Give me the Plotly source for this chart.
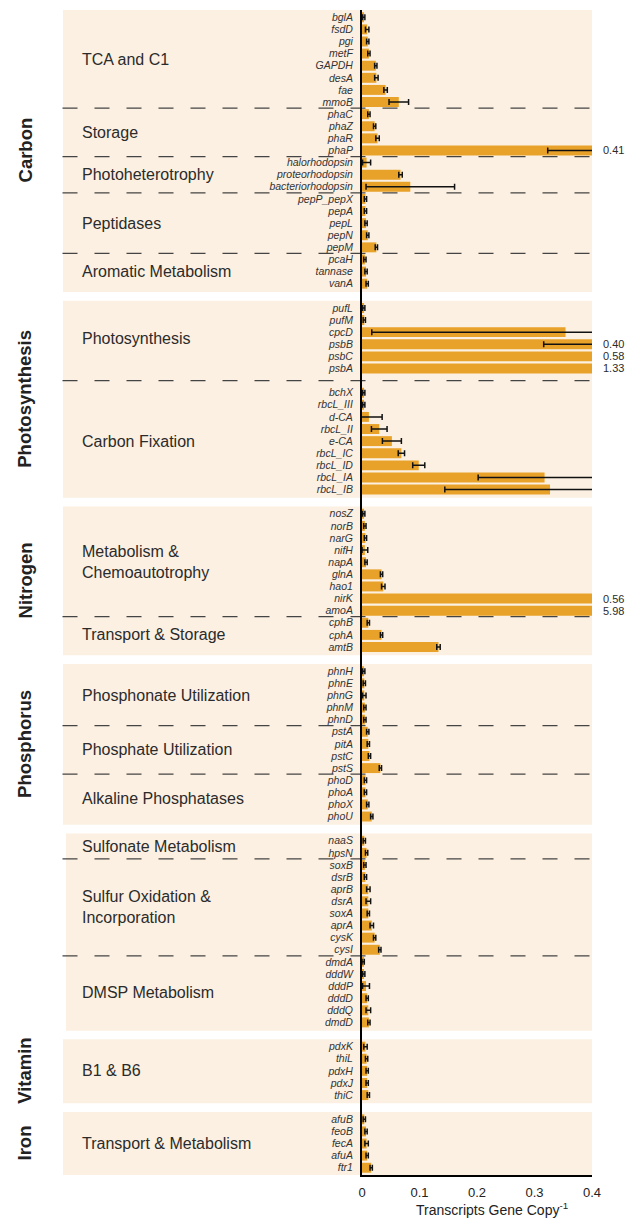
import plotly.graph_objects as go

FONT = "Liberation Sans, Arial, Helvetica, sans-serif"

# ---------------------------------------------------------------- data
# Carbon
tca_genes = ["bglA", "fsdD", "pgi", "metF", "GAPDH", "desA", "fae", "mmoB"]
tca_vals = [0.003, 0.009, 0.010, 0.012, 0.024, 0.025, 0.041, 0.064]
tca_errs = [0.002, 0.003, 0.002, 0.002, 0.002, 0.003, 0.003, 0.017]

storage_genes = ["phaC", "phaZ", "phaR", "phaP"]
storage_vals = [0.012, 0.022, 0.027, 0.41]
storage_errs = [0.002, 0.002, 0.003, 0.087]

photohet_genes = ["halorhodopsin", "proteorhodopsin", "bacteriorhodopsin"]
photohet_vals = [0.008, 0.067, 0.084]
photohet_errs = [0.007, 0.003, 0.077]

pept_genes = ["pepP_pepX", "pepA", "pepL", "pepN", "pepM"]
pept_vals = [0.006, 0.006, 0.007, 0.010, 0.025]
pept_errs = [0.002, 0.002, 0.002, 0.002, 0.002]

arom_genes = ["pcaH", "tannase", "vanA"]
arom_vals = [0.005, 0.007, 0.009]
arom_errs = [0.002, 0.002, 0.002]

# Photosynthesis
psyn_genes = ["pufL", "pufM", "cpcD", "psbB", "psbC", "psbA"]
psyn_vals = [0.003, 0.004, 0.354, 0.40, 0.58, 1.33]
psyn_errs = [0.002, 0.002, 0.337, 0.084, 0.09, 0.35]

cfix_genes = ["bchX", "rbcL_III", "d-CA", "rbcL_II", "e-CA", "rbcL_IC",
              "rbcL_ID", "rbcL_IA", "rbcL_IB"]
cfix_vals = [0.003, 0.003, 0.012, 0.030, 0.052, 0.0685, 0.0987, 0.3175, 0.327]
cfix_errs = [0.002, 0.002, 0.023, 0.0136, 0.0165, 0.0055, 0.0105, 0.1155, 0.183]

# Nitrogen
nmet_genes = ["nosZ", "norB", "narG", "nifH", "napA", "glnA", "hao1", "nirK", "amoA"]
nmet_vals = [0.003, 0.005, 0.006, 0.005, 0.007, 0.034, 0.037, 0.56, 5.98]
nmet_errs = [0.002, 0.002, 0.002, 0.005, 0.002, 0.002, 0.003, 0.12, 1.9]

ntrans_genes = ["cphB", "cphA", "amtB"]
ntrans_vals = [0.011, 0.034, 0.133]
ntrans_errs = [0.002, 0.002, 0.003]

# Phosphorus
phon_genes = ["phnH", "phnE", "phnG", "phnM", "phnD"]
phon_vals = [0.003, 0.004, 0.004, 0.005, 0.005]
phon_errs = [0.002, 0.002, 0.003, 0.002, 0.002]

phat_genes = ["pstA", "pitA", "pstC", "pstS"]
phat_vals = [0.010, 0.011, 0.013, 0.032]
phat_errs = [0.002, 0.002, 0.002, 0.002]

alk_genes = ["phoD", "phoA", "phoX", "phoU"]
alk_vals = [0.006, 0.006, 0.010, 0.017]
alk_errs = [0.002, 0.002, 0.002, 0.002]

# Sulfur
sulfon_genes = ["naaS", "hpsN"]
sulfon_vals = [0.004, 0.008]
sulfon_errs = [0.002, 0.002]

sox_genes = ["soxB", "dsrB", "aprB", "dsrA", "soxA", "aprA", "cysK", "cysI"]
sox_vals = [0.005, 0.006, 0.011, 0.011, 0.011, 0.017, 0.022, 0.031]
sox_errs = [0.002, 0.002, 0.003, 0.004, 0.002, 0.003, 0.002, 0.002]

dmsp_genes = ["dmdA", "dddW", "dddP", "dddD", "dddQ", "dmdD"]
dmsp_vals = [0.002, 0.003, 0.007, 0.009, 0.011, 0.012]
dmsp_errs = [0.002, 0.002, 0.006, 0.002, 0.004, 0.002]

# Vitamin
vit_genes = ["pdxK", "thiL", "pdxH", "pdxJ", "thiC"]
vit_vals = [0.006, 0.008, 0.009, 0.009, 0.011]
vit_errs = [0.003, 0.002, 0.002, 0.002, 0.002]

# Iron
iron_genes = ["afuB", "feoB", "fecA", "afuA", "ftr1"]
iron_vals = [0.004, 0.007, 0.008, 0.009, 0.016]
iron_errs = [0.002, 0.002, 0.003, 0.002, 0.002]

x_ticks = [0, 0.1, 0.2, 0.3, 0.4]
x_ticktext = ["0", "0.1", "0.2", "0.3", "0.4"]
X_MAX = 0.4

# panel: (side label, extra rows at sub-group breaks, left edge px, sub-groups)
panels = [
    ("Carbon", 0, 63, [
        ("TCA and C1", tca_genes, tca_vals, tca_errs),
        ("Storage", storage_genes, storage_vals, storage_errs),
        ("Photoheterotrophy", photohet_genes, photohet_vals, photohet_errs),
        ("Peptidases", pept_genes, pept_vals, pept_errs),
        ("Aromatic Metabolism", arom_genes, arom_vals, arom_errs),
    ]),
    ("Photosynthesis", 1, 63, [
        ("Photosynthesis", psyn_genes, psyn_vals, psyn_errs),
        ("Carbon Fixation", cfix_genes, cfix_vals, cfix_errs),
    ]),
    ("Nitrogen", 0, 63, [
        ("Metabolism &<br>Chemoautotrophy", nmet_genes, nmet_vals, nmet_errs),
        ("Transport & Storage", ntrans_genes, ntrans_vals, ntrans_errs),
    ]),
    ("Phosphorus", 0, 63, [
        ("Phosphonate Utilization", phon_genes, phon_vals, phon_errs),
        ("Phosphate Utilization", phat_genes, phat_vals, phat_errs),
        ("Alkaline Phosphatases", alk_genes, alk_vals, alk_errs),
    ]),
    ("", 0, 66, [
        ("Sulfonate Metabolism", sulfon_genes, sulfon_vals, sulfon_errs),
        ("Sulfur Oxidation &<br>Incorporation", sox_genes, sox_vals, sox_errs),
        ("DMSP Metabolism", dmsp_genes, dmsp_vals, dmsp_errs),
    ]),
    ("Vitamin", 0, 63, [
        ("B1 & B6", vit_genes, vit_vals, vit_errs),
    ]),
    ("Iron", 0, 63, [
        ("Transport & Metabolism", iron_genes, iron_vals, iron_errs),
    ]),
]

# ---------------------------------------------------------- row layout
ys, genes, vals, errs = [], [], [], []
panel_spans, sub_labels, separators = [], [], []
row = 0
for pi, (plabel, sep_extra, left_px, subs) in enumerate(panels):
    if pi > 0:
        row += 1
    first = row
    prev_last = None
    for si, (slabel, g, v, e) in enumerate(subs):
        if si > 0:
            row += sep_extra
            separators.append((prev_last + row) / 2)
        start = row
        for gi in range(len(g)):
            ys.append(row)
            genes.append(g[gi])
            vals.append(v[gi])
            errs.append(e[gi])
            row += 1
        prev_last = row - 1
        sub_labels.append((slabel, (start + prev_last) / 2))
    panel_spans.append((plabel, first, row - 1, left_px))
last_row = row - 1

# ------------------------------------------------------------- geometry
W, H = 627, 1218
M_L, M_R, M_T, M_B = 362, 35, 10, 43
PLOT_W = W - M_L - M_R
PLOT_H = H - M_T - M_B


def px_x(px):
    return (px - M_L) / PLOT_W


def px_y(py):
    return (H - M_B - py) / PLOT_H


PAD_TOP, PAD_BOT = 0.6, 0.68
PANEL_BG = "#FCF0E2"
BAR_COLOR = "#E8A229"
TEXT = "#2b2b2b"

fig = go.Figure()
fig.add_trace(go.Bar(
    x=vals, y=ys, orientation="h",
    marker=dict(color=BAR_COLOR, line=dict(width=0)),
    error_x=dict(type="data", array=errs, visible=True,
                 color="#111111", thickness=1.5, width=3),
    hovertext=genes, showlegend=False,
))

shapes, annotations = [], []
for plabel, first, last, left_px in panel_spans:
    shapes.append(dict(type="rect", layer="below", xref="paper", yref="y",
                       x0=px_x(left_px), x1=1.0,
                       y0=first - PAD_TOP, y1=last + PAD_BOT,
                       fillcolor=PANEL_BG, line=dict(width=0)))
    if plabel:
        annotations.append(dict(text=f"<b>{plabel}</b>", xref="paper", yref="y",
                                x=px_x(25), y=(first + last) / 2, textangle=-90,
                                showarrow=False, xanchor="center", yanchor="middle",
                                font=dict(family=FONT, size=18.5, color="#222222")))

for sy in separators:
    shapes.append(dict(type="line", layer="below", xref="paper", yref="y",
                       x0=px_x(62.5), x1=1.0, y0=sy, y1=sy,
                       line=dict(color="#444444", width=1.3, dash="15px,17px")))

for slabel, cy in sub_labels:
    annotations.append(dict(text=slabel, xref="paper", yref="y",
                            x=px_x(80), y=cy, showarrow=False,
                            xanchor="left", yanchor="middle", align="left",
                            font=dict(family=FONT, size=16, color=TEXT)))

# values that run past the axis limit are written at the right edge
for v, yv in zip(vals, ys):
    if v >= X_MAX:
        annotations.append(dict(text=f"{v:.2f}", xref="paper", yref="y",
                                x=px_x(602), y=yv, showarrow=False,
                                xanchor="left", yanchor="middle", borderpad=0,
                                font=dict(family=FONT, size=11, color=TEXT)))

annotations.append(dict(text="Transcripts Gene Copy<sup>-1</sup>",
                        xref="paper", yref="paper", x=px_x(492), y=px_y(1209),
                        showarrow=False, xanchor="center", yanchor="middle",
                        font=dict(family=FONT, size=14, color="#222222")))

fig.update_layout(
    width=W, height=H,
    margin=dict(l=M_L, r=M_R, t=M_T, b=M_B, pad=0),
    paper_bgcolor="white", plot_bgcolor="white",
    bargap=0.18,
    shapes=shapes, annotations=annotations,
    font=dict(family=FONT, color=TEXT),
    xaxis=dict(range=[0, X_MAX], tickmode="array", tickvals=x_ticks,
               ticktext=x_ticktext, ticks="", showgrid=False, zeroline=False,
               showline=True, linecolor="black", linewidth=2,
               tickfont=dict(family=FONT, size=13, color="#222222"),
               ticklabelstandoff=4),
    yaxis=dict(range=[last_row + 0.6, -0.6], tickmode="array", tickvals=ys,
               ticktext=[f"<i>{g}</i>" for g in genes], ticks="",
               showgrid=False, zeroline=False, showline=True,
               linecolor="black", linewidth=2,
               tickfont=dict(family=FONT, size=10.5, color="#333333"),
               ticklabelstandoff=5),
)

fig.write_html("out.html")
